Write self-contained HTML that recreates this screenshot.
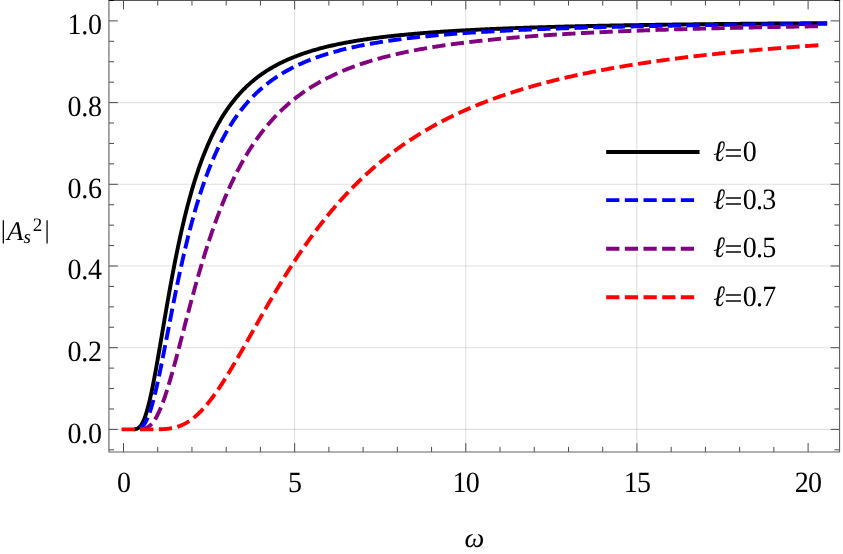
<!DOCTYPE html>
<html><head><meta charset="utf-8"><title>plot</title>
<style>html,body{margin:0;padding:0;background:#fff;overflow:hidden}body{width:843px;height:554px;position:relative;font-family:"Liberation Serif",serif}</style></head>
<body>
<svg width="843" height="554" viewBox="0 0 843 554" style="position:absolute;left:0;top:0">
<rect width="100%" height="100%" fill="#fff"/>
<path d="M108.94 429.40 H839.55 M108.94 347.70 H839.55 M108.94 266.00 H839.55 M108.94 184.30 H839.55 M108.94 102.60 H839.55" stroke="#000" stroke-opacity="0.12" stroke-width="1.1" fill="none"/>
<path d="M294.55 0.45 V452.00 M465.70 0.45 V452.00 M636.85 0.45 V452.00" stroke="#000" stroke-opacity="0.12" stroke-width="1.1" fill="none"/>
<clipPath id="cp"><rect x="134.4" y="0" width="720" height="460"/></clipPath>
<path d="M123.50 429.40 L123.52 429.40 L123.56 429.40 L123.61 429.40 L123.68 429.40 L123.76 429.40 L123.85 429.40 L123.94 429.40 L124.05 429.40 L124.16 429.40 L124.28 429.40 L124.41 429.40 L124.55 429.40 L124.69 429.40 L124.84 429.40 L125.00 429.40 L125.16 429.40 L125.33 429.40 L125.51 429.40 L125.69 429.40 L125.87 429.40 L126.07 429.40 L126.27 429.40 L126.47 429.40 L126.68 429.40 L126.89 429.40 L127.11 429.40 L127.34 429.40 L127.57 429.40 L127.80 429.40 L128.04 429.40 L128.29 429.40 L128.54 429.40 L128.79 429.40 L129.05 429.40 L129.31 429.40 L129.58 429.40 L129.86 429.40 L130.13 429.40 L130.41 429.40 L130.70 429.40 L130.99 429.40 L131.28 429.40 L131.58 429.40 L131.89 429.39 L132.19 429.39 L132.50 429.39 L132.82 429.38 L133.14 429.37 L133.46 429.35 L133.79 429.34 L134.12 429.31 L134.45 429.28 L134.79 429.24 L135.14 429.20 L135.48 429.13 L135.83 429.06 L136.19 428.97 L136.55 428.86 L136.91 428.73 L137.27 428.57 L137.64 428.39 L138.02 428.18 L138.39 427.94 L138.77 427.66 L139.16 427.35 L139.54 426.99 L139.93 426.59 L140.33 426.14 L140.73 425.64 L141.13 425.08 L141.53 424.47 L141.94 423.80 L142.35 423.07 L142.77 422.27 L143.18 421.41 L143.61 420.48 L144.03 419.48 L144.46 418.41 L144.89 417.26 L145.32 416.04 L145.76 414.74 L146.20 413.37 L146.65 411.92 L147.10 410.39 L147.55 408.79 L148.00 407.10 L148.46 405.35 L148.92 403.51 L149.38 401.60 L149.85 399.61 L150.32 397.55 L150.79 395.42 L151.27 393.22 L151.75 390.95 L152.23 388.61 L152.72 386.21 L153.21 383.74 L153.70 381.21 L154.19 378.62 L154.69 375.98 L155.19 373.28 L155.69 370.53 L156.20 367.74 L156.71 364.89 L157.22 362.00 L157.74 359.07 L158.26 356.11 L158.78 353.10 L159.30 350.06 L159.83 347.00 L160.36 343.90 L160.89 340.78 L161.43 337.64 L161.96 334.48 L162.51 331.29 L163.05 328.10 L163.60 324.89 L164.15 321.67 L164.70 318.44 L165.25 315.21 L165.81 311.97 L166.37 308.73 L166.94 305.49 L167.50 302.26 L168.07 299.03 L168.64 295.80 L169.22 292.58 L169.80 289.37 L170.38 286.17 L170.96 282.99 L171.54 279.82 L172.13 276.66 L172.72 273.52 L173.32 270.39 L173.91 267.29 L174.51 264.21 L175.11 261.14 L175.72 258.10 L176.32 255.08 L176.93 252.09 L177.54 249.12 L178.16 246.17 L178.78 243.26 L179.40 240.36 L180.02 237.50 L180.64 234.66 L181.27 231.85 L181.90 229.07 L182.53 226.31 L183.17 223.59 L183.81 220.90 L184.45 218.23 L185.09 215.60 L185.74 212.99 L186.38 210.42 L187.03 207.87 L187.69 205.36 L188.34 202.87 L189.00 200.42 L189.66 198.00 L190.32 195.61 L190.99 193.24 L191.66 190.91 L192.33 188.61 L193.00 186.34 L193.67 184.10 L194.35 181.89 L195.03 179.71 L195.71 177.55 L196.40 175.43 L197.09 173.34 L197.78 171.27 L198.47 169.24 L199.16 167.23 L199.86 165.25 L200.56 163.30 L201.26 161.37 L201.96 159.48 L202.67 157.61 L203.38 155.77 L204.09 153.95 L204.81 152.16 L205.52 150.40 L206.24 148.66 L206.96 146.95 L207.68 145.26 L208.41 143.60 L209.14 141.96 L209.87 140.35 L210.60 138.76 L211.33 137.19 L212.07 135.65 L212.81 134.13 L213.55 132.63 L214.29 131.16 L215.04 129.70 L215.79 128.27 L216.54 126.86 L217.29 125.47 L218.05 124.11 L218.81 122.76 L219.57 121.43 L220.33 120.13 L221.09 118.84 L221.86 117.57 L222.63 116.32 L223.40 115.09 L224.17 113.88 L224.95 112.69 L225.72 111.51 L226.50 110.35 L227.29 109.21 L228.07 108.09 L228.86 106.98 L229.65 105.89 L230.44 104.82 L231.23 103.76 L232.03 102.72 L232.82 101.70 L233.62 100.69 L234.43 99.69 L235.23 98.71 L236.04 97.74 L236.84 96.79 L237.66 95.85 L238.47 94.93 L239.28 94.02 L240.10 93.12 L240.92 92.24 L241.74 91.37 L242.56 90.51 L243.39 89.67 L244.22 88.84 L245.05 88.02 L245.88 87.21 L246.71 86.41 L247.55 85.63 L248.39 84.86 L249.23 84.10 L250.07 83.35 L250.92 82.61 L251.77 81.88 L252.61 81.16 L253.47 80.45 L254.32 79.75 L255.17 79.07 L256.03 78.39 L256.89 77.72 L257.75 77.06 L258.62 76.41 L259.48 75.77 L260.35 75.14 L261.22 74.52 L262.09 73.91 L262.97 73.30 L263.84 72.71 L264.72 72.12 L265.60 71.54 L266.48 70.97 L267.37 70.41 L268.25 69.85 L269.14 69.31 L270.03 68.77 L270.92 68.23 L271.82 67.71 L272.72 67.19 L273.61 66.68 L274.51 66.18 L275.42 65.68 L276.32 65.19 L277.23 64.71 L278.14 64.23 L279.05 63.76 L279.96 63.30 L280.88 62.84 L281.79 62.39 L282.71 61.95 L283.63 61.51 L284.55 61.08 L285.48 60.65 L286.40 60.23 L287.33 59.81 L288.26 59.40 L289.20 59.00 L290.13 58.60 L291.07 58.20 L292.01 57.82 L292.95 57.43 L293.89 57.05 L294.83 56.68 L295.78 56.31 L296.73 55.95 L297.68 55.59 L298.63 55.23 L299.58 54.88 L300.54 54.54 L301.50 54.20 L302.46 53.86 L303.42 53.53 L304.38 53.20 L305.35 52.87 L306.32 52.55 L307.29 52.24 L308.26 51.93 L309.23 51.62 L310.21 51.31 L311.18 51.01 L312.16 50.72 L313.14 50.43 L314.13 50.14 L315.11 49.85 L316.10 49.57 L317.09 49.29 L318.08 49.02 L319.07 48.74 L320.06 48.48 L321.06 48.21 L322.06 47.95 L323.06 47.69 L324.06 47.44 L325.06 47.18 L326.07 46.93 L327.08 46.69 L328.09 46.45 L329.10 46.21 L330.11 45.97 L331.13 45.73 L332.14 45.50 L333.16 45.27 L334.18 45.05 L335.20 44.82 L336.23 44.60 L337.25 44.38 L338.28 44.17 L339.31 43.96 L340.34 43.75 L341.38 43.54 L342.41 43.33 L343.45 43.13 L344.49 42.93 L345.53 42.73 L346.57 42.53 L347.62 42.34 L348.66 42.15 L349.71 41.96 L350.76 41.77 L351.81 41.58 L352.87 41.40 L353.92 41.22 L354.98 41.04 L356.04 40.86 L357.10 40.69 L358.16 40.52 L359.23 40.34 L360.29 40.18 L361.36 40.01 L362.43 39.84 L363.50 39.68 L364.58 39.52 L365.65 39.36 L366.73 39.20 L367.81 39.04 L368.89 38.89 L369.97 38.73 L371.06 38.58 L372.14 38.43 L373.23 38.29 L374.32 38.14 L375.41 37.99 L376.50 37.85 L377.60 37.71 L378.70 37.57 L379.79 37.43 L380.89 37.29 L382.00 37.16 L383.10 37.02 L384.21 36.89 L385.31 36.76 L386.42 36.63 L387.53 36.50 L388.65 36.37 L389.76 36.25 L390.88 36.12 L391.99 36.00 L393.11 35.88 L394.23 35.76 L395.36 35.64 L396.48 35.52 L397.61 35.40 L398.74 35.29 L399.87 35.17 L401.00 35.06 L402.13 34.94 L403.27 34.83 L404.40 34.72 L405.54 34.61 L406.68 34.51 L407.83 34.40 L408.97 34.29 L410.12 34.19 L411.26 34.09 L412.41 33.98 L413.56 33.88 L414.72 33.78 L415.87 33.68 L417.03 33.58 L418.18 33.49 L419.34 33.39 L420.50 33.30 L421.67 33.20 L422.83 33.11 L424.00 33.01 L425.16 32.92 L426.33 32.83 L427.51 32.74 L428.68 32.65 L429.85 32.56 L431.03 32.48 L432.21 32.39 L433.39 32.31 L434.57 32.22 L435.75 32.14 L436.94 32.05 L438.12 31.97 L439.31 31.89 L440.50 31.81 L441.69 31.73 L442.88 31.65 L444.08 31.57 L445.28 31.49 L446.47 31.42 L447.67 31.34 L448.88 31.26 L450.08 31.19 L451.28 31.11 L452.49 31.04 L453.70 30.97 L454.91 30.90 L456.12 30.82 L457.33 30.75 L458.55 30.68 L459.76 30.61 L460.98 30.54 L462.20 30.48 L463.42 30.41 L464.65 30.34 L465.87 30.28 L467.10 30.21 L468.32 30.14 L469.55 30.08 L470.79 30.02 L472.02 29.95 L473.25 29.89 L474.49 29.83 L475.73 29.77 L476.97 29.70 L478.21 29.64 L479.45 29.58 L480.69 29.52 L481.94 29.46 L483.19 29.41 L484.44 29.35 L485.69 29.29 L486.94 29.23 L488.19 29.18 L489.45 29.12 L490.71 29.07 L491.97 29.01 L493.23 28.96 L494.49 28.90 L495.75 28.85 L497.02 28.80 L498.28 28.74 L499.55 28.69 L500.82 28.64 L502.10 28.59 L503.37 28.54 L504.64 28.49 L505.92 28.44 L507.20 28.39 L508.48 28.34 L509.76 28.29 L511.04 28.24 L512.33 28.19 L513.61 28.15 L514.90 28.10 L516.19 28.05 L517.48 28.01 L518.77 27.96 L520.07 27.92 L521.36 27.87 L522.66 27.83 L523.96 27.78 L525.26 27.74 L526.56 27.69 L527.87 27.65 L529.17 27.61 L530.48 27.56 L531.79 27.52 L533.10 27.48 L534.41 27.44 L535.72 27.40 L537.04 27.36 L538.35 27.32 L539.67 27.28 L540.99 27.24 L542.31 27.20 L543.63 27.16 L544.96 27.12 L546.28 27.08 L547.61 27.04 L548.94 27.00 L550.27 26.97 L551.60 26.93 L552.93 26.89 L554.27 26.86 L555.60 26.82 L556.94 26.78 L558.28 26.75 L559.62 26.71 L560.97 26.68 L562.31 26.64 L563.66 26.61 L565.00 26.57 L566.35 26.54 L567.70 26.50 L569.05 26.47 L570.41 26.44 L571.76 26.40 L573.12 26.37 L574.48 26.34 L575.84 26.31 L577.20 26.27 L578.56 26.24 L579.93 26.21 L581.29 26.18 L582.66 26.15 L584.03 26.12 L585.40 26.09 L586.77 26.06 L588.14 26.03 L589.52 26.00 L590.89 25.97 L592.27 25.94 L593.65 25.91 L595.03 25.88 L596.42 25.85 L597.80 25.82 L599.19 25.79 L600.57 25.76 L601.96 25.74 L603.35 25.71 L604.74 25.68 L606.14 25.65 L607.53 25.63 L608.93 25.60 L610.32 25.57 L611.72 25.55 L613.12 25.52 L614.53 25.49 L615.93 25.47 L617.34 25.44 L618.74 25.42 L620.15 25.39 L621.56 25.37 L622.97 25.34 L624.38 25.32 L625.80 25.29 L627.21 25.27 L628.63 25.24 L630.05 25.22 L631.47 25.19 L632.89 25.17 L634.31 25.15 L635.74 25.12 L637.16 25.10 L638.59 25.08 L640.02 25.05 L641.45 25.03 L642.88 25.01 L644.32 24.99 L645.75 24.96 L647.19 24.94 L648.63 24.92 L650.07 24.90 L651.51 24.88 L652.95 24.86 L654.39 24.83 L655.84 24.81 L657.29 24.79 L658.73 24.77 L660.18 24.75 L661.64 24.73 L663.09 24.71 L664.54 24.69 L666.00 24.67 L667.45 24.65 L668.91 24.63 L670.37 24.61 L671.83 24.59 L673.30 24.57 L674.76 24.55 L676.23 24.53 L677.70 24.51 L679.16 24.49 L680.63 24.47 L682.11 24.46 L683.58 24.44 L685.05 24.42 L686.53 24.40 L688.01 24.38 L689.49 24.36 L690.97 24.35 L692.45 24.33 L693.93 24.31 L695.42 24.29 L696.90 24.28 L698.39 24.26 L699.88 24.24 L701.37 24.22 L702.86 24.21 L704.36 24.19 L705.85 24.17 L707.35 24.16 L708.85 24.14 L710.34 24.12 L711.84 24.11 L713.35 24.09 L714.85 24.07 L716.36 24.06 L717.86 24.04 L719.37 24.03 L720.88 24.01 L722.39 24.00 L723.90 23.98 L725.42 23.97 L726.93 23.95 L728.45 23.93 L729.96 23.92 L731.48 23.90 L733.00 23.89 L734.53 23.87 L736.05 23.86 L737.57 23.85 L739.10 23.83 L740.63 23.82 L742.16 23.80 L743.69 23.79 L745.22 23.77 L746.75 23.76 L748.29 23.75 L749.83 23.73 L751.36 23.72 L752.90 23.70 L754.44 23.69 L755.98 23.68 L757.53 23.66 L759.07 23.65 L760.62 23.64 L762.17 23.62 L763.72 23.61 L765.27 23.60 L766.82 23.58 L768.37 23.57 L769.93 23.56 L771.48 23.55 L773.04 23.53 L774.60 23.52 L776.16 23.51 L777.72 23.50 L779.28 23.48 L780.85 23.47 L782.41 23.46 L783.98 23.45 L785.55 23.44 L787.12 23.42 L788.69 23.41 L790.26 23.40 L791.84 23.39 L793.41 23.38 L794.99 23.37 L796.57 23.35 L798.15 23.34 L799.73 23.33 L801.31 23.32 L802.90 23.31 L804.48 23.30 L806.07 23.29 L807.66 23.28 L809.24 23.26 L810.84 23.25 L812.43 23.24 L814.02 23.23 L815.62 23.22 L817.21 23.21 L818.81 23.20 L820.41 23.19 L822.01 23.18 L823.61 23.17 L825.21 23.16" stroke="#000000" stroke-width="3.9" fill="none" stroke-linejoin="round" stroke-linecap="square" clip-path="url(#cp)"/>
<path d="M123.50 429.40 L123.52 429.40 L123.56 429.40 L123.61 429.40 L123.68 429.40 L123.76 429.40 L123.85 429.40 L123.94 429.40 L124.05 429.40 L124.16 429.40 L124.28 429.40 L124.41 429.40 L124.55 429.40 L124.69 429.40 L124.84 429.40 L125.00 429.40 L125.16 429.40 L125.33 429.40 L125.51 429.40 L125.69 429.40 L125.87 429.40 L126.07 429.40 L126.27 429.40 L126.47 429.40 L126.68 429.40 L126.89 429.40 L127.11 429.40 L127.34 429.40 L127.57 429.40 L127.80 429.40 L128.04 429.40 L128.29 429.40 L128.54 429.40 L128.79 429.40 L129.05 429.40 L129.31 429.40 L129.58 429.40 L129.86 429.40 L130.13 429.40 L130.41 429.40 L130.70 429.40 L130.99 429.40 L131.28 429.40 L131.58 429.40 L131.89 429.40 L132.19 429.40 L132.50 429.40 L132.82 429.40 L133.14 429.39 L133.46 429.39 L133.79 429.38 L134.12 429.38 L134.45 429.37 L134.79 429.36 L135.14 429.34 L135.48 429.32 L135.83 429.30 L136.19 429.26 L136.55 429.22 L136.91 429.17 L137.27 429.11 L137.64 429.04 L138.02 428.95 L138.39 428.85 L138.77 428.73 L139.16 428.59 L139.54 428.43 L139.93 428.24 L140.33 428.03 L140.73 427.78 L141.13 427.51 L141.53 427.20 L141.94 426.85 L142.35 426.47 L142.77 426.04 L143.18 425.57 L143.61 425.06 L144.03 424.49 L144.46 423.88 L144.89 423.21 L145.32 422.50 L145.76 421.72 L146.20 420.89 L146.65 419.99 L147.10 419.04 L147.55 418.03 L148.00 416.95 L148.46 415.81 L148.92 414.60 L149.38 413.33 L149.85 412.00 L150.32 410.60 L150.79 409.13 L151.27 407.60 L151.75 406.00 L152.23 404.34 L152.72 402.61 L153.21 400.82 L153.70 398.96 L154.19 397.05 L154.69 395.07 L155.19 393.03 L155.69 390.93 L156.20 388.78 L156.71 386.57 L157.22 384.31 L157.74 381.99 L158.26 379.63 L158.78 377.21 L159.30 374.75 L159.83 372.25 L160.36 369.70 L160.89 367.11 L161.43 364.48 L161.96 361.81 L162.51 359.11 L163.05 356.38 L163.60 353.61 L164.15 350.82 L164.70 348.00 L165.25 345.16 L165.81 342.29 L166.37 339.41 L166.94 336.50 L167.50 333.58 L168.07 330.64 L168.64 327.70 L169.22 324.74 L169.80 321.77 L170.38 318.80 L170.96 315.82 L171.54 312.84 L172.13 309.85 L172.72 306.87 L173.32 303.88 L173.91 300.90 L174.51 297.92 L175.11 294.95 L175.72 291.99 L176.32 289.03 L176.93 286.08 L177.54 283.15 L178.16 280.22 L178.78 277.31 L179.40 274.41 L180.02 271.53 L180.64 268.66 L181.27 265.81 L181.90 262.98 L182.53 260.16 L183.17 257.36 L183.81 254.59 L184.45 251.83 L185.09 249.09 L185.74 246.38 L186.38 243.68 L187.03 241.01 L187.69 238.37 L188.34 235.74 L189.00 233.14 L189.66 230.56 L190.32 228.01 L190.99 225.48 L191.66 222.98 L192.33 220.50 L193.00 218.05 L193.67 215.62 L194.35 213.22 L195.03 210.84 L195.71 208.49 L196.40 206.17 L197.09 203.87 L197.78 201.59 L198.47 199.35 L199.16 197.13 L199.86 194.93 L200.56 192.76 L201.26 190.62 L201.96 188.50 L202.67 186.40 L203.38 184.34 L204.09 182.30 L204.81 180.28 L205.52 178.29 L206.24 176.32 L206.96 174.38 L207.68 172.46 L208.41 170.57 L209.14 168.70 L209.87 166.85 L210.60 165.03 L211.33 163.24 L212.07 161.46 L212.81 159.71 L213.55 157.99 L214.29 156.28 L215.04 154.60 L215.79 152.94 L216.54 151.31 L217.29 149.69 L218.05 148.10 L218.81 146.53 L219.57 144.98 L220.33 143.45 L221.09 141.94 L221.86 140.45 L222.63 138.99 L223.40 137.54 L224.17 136.11 L224.95 134.70 L225.72 133.31 L226.50 131.94 L227.29 130.59 L228.07 129.26 L228.86 127.95 L229.65 126.65 L230.44 125.38 L231.23 124.12 L232.03 122.87 L232.82 121.65 L233.62 120.44 L234.43 119.25 L235.23 118.07 L236.04 116.91 L236.84 115.77 L237.66 114.65 L238.47 113.53 L239.28 112.44 L240.10 111.36 L240.92 110.29 L241.74 109.24 L242.56 108.21 L243.39 107.18 L244.22 106.18 L245.05 105.18 L245.88 104.20 L246.71 103.24 L247.55 102.28 L248.39 101.34 L249.23 100.42 L250.07 99.50 L250.92 98.60 L251.77 97.71 L252.61 96.83 L253.47 95.97 L254.32 95.12 L255.17 94.27 L256.03 93.44 L256.89 92.63 L257.75 91.82 L258.62 91.02 L259.48 90.24 L260.35 89.46 L261.22 88.70 L262.09 87.94 L262.97 87.20 L263.84 86.46 L264.72 85.74 L265.60 85.03 L266.48 84.32 L267.37 83.63 L268.25 82.94 L269.14 82.26 L270.03 81.60 L270.92 80.94 L271.82 80.29 L272.72 79.65 L273.61 79.01 L274.51 78.39 L275.42 77.77 L276.32 77.17 L277.23 76.57 L278.14 75.97 L279.05 75.39 L279.96 74.81 L280.88 74.25 L281.79 73.68 L282.71 73.13 L283.63 72.58 L284.55 72.04 L285.48 71.51 L286.40 70.98 L287.33 70.46 L288.26 69.95 L289.20 69.45 L290.13 68.95 L291.07 68.45 L292.01 67.97 L292.95 67.49 L293.89 67.01 L294.83 66.54 L295.78 66.08 L296.73 65.63 L297.68 65.18 L298.63 64.73 L299.58 64.29 L300.54 63.86 L301.50 63.43 L302.46 63.01 L303.42 62.59 L304.38 62.18 L305.35 61.77 L306.32 61.37 L307.29 60.97 L308.26 60.58 L309.23 60.19 L310.21 59.80 L311.18 59.43 L312.16 59.05 L313.14 58.68 L314.13 58.32 L315.11 57.96 L316.10 57.60 L317.09 57.25 L318.08 56.91 L319.07 56.56 L320.06 56.22 L321.06 55.89 L322.06 55.56 L323.06 55.23 L324.06 54.91 L325.06 54.59 L326.07 54.27 L327.08 53.96 L328.09 53.66 L329.10 53.35 L330.11 53.05 L331.13 52.75 L332.14 52.46 L333.16 52.17 L334.18 51.88 L335.20 51.60 L336.23 51.32 L337.25 51.04 L338.28 50.77 L339.31 50.50 L340.34 50.23 L341.38 49.97 L342.41 49.71 L343.45 49.45 L344.49 49.19 L345.53 48.94 L346.57 48.69 L347.62 48.44 L348.66 48.20 L349.71 47.96 L350.76 47.72 L351.81 47.49 L352.87 47.25 L353.92 47.02 L354.98 46.79 L356.04 46.57 L357.10 46.35 L358.16 46.13 L359.23 45.91 L360.29 45.69 L361.36 45.48 L362.43 45.27 L363.50 45.06 L364.58 44.85 L365.65 44.65 L366.73 44.45 L367.81 44.25 L368.89 44.05 L369.97 43.86 L371.06 43.66 L372.14 43.47 L373.23 43.28 L374.32 43.10 L375.41 42.91 L376.50 42.73 L377.60 42.55 L378.70 42.37 L379.79 42.19 L380.89 42.02 L382.00 41.84 L383.10 41.67 L384.21 41.50 L385.31 41.33 L386.42 41.17 L387.53 41.00 L388.65 40.84 L389.76 40.68 L390.88 40.52 L391.99 40.36 L393.11 40.20 L394.23 40.05 L395.36 39.90 L396.48 39.75 L397.61 39.60 L398.74 39.45 L399.87 39.30 L401.00 39.16 L402.13 39.01 L403.27 38.87 L404.40 38.73 L405.54 38.59 L406.68 38.45 L407.83 38.31 L408.97 38.18 L410.12 38.04 L411.26 37.91 L412.41 37.78 L413.56 37.65 L414.72 37.52 L415.87 37.39 L417.03 37.27 L418.18 37.14 L419.34 37.02 L420.50 36.90 L421.67 36.78 L422.83 36.66 L424.00 36.54 L425.16 36.42 L426.33 36.30 L427.51 36.19 L428.68 36.07 L429.85 35.96 L431.03 35.85 L432.21 35.74 L433.39 35.63 L434.57 35.52 L435.75 35.41 L436.94 35.30 L438.12 35.20 L439.31 35.09 L440.50 34.99 L441.69 34.89 L442.88 34.78 L444.08 34.68 L445.28 34.58 L446.47 34.48 L447.67 34.39 L448.88 34.29 L450.08 34.19 L451.28 34.10 L452.49 34.00 L453.70 33.91 L454.91 33.82 L456.12 33.72 L457.33 33.63 L458.55 33.54 L459.76 33.45 L460.98 33.36 L462.20 33.28 L463.42 33.19 L464.65 33.10 L465.87 33.02 L467.10 32.93 L468.32 32.85 L469.55 32.77 L470.79 32.68 L472.02 32.60 L473.25 32.52 L474.49 32.44 L475.73 32.36 L476.97 32.28 L478.21 32.20 L479.45 32.13 L480.69 32.05 L481.94 31.97 L483.19 31.90 L484.44 31.82 L485.69 31.75 L486.94 31.68 L488.19 31.60 L489.45 31.53 L490.71 31.46 L491.97 31.39 L493.23 31.32 L494.49 31.25 L495.75 31.18 L497.02 31.11 L498.28 31.05 L499.55 30.98 L500.82 30.91 L502.10 30.85 L503.37 30.78 L504.64 30.72 L505.92 30.65 L507.20 30.59 L508.48 30.52 L509.76 30.46 L511.04 30.40 L512.33 30.34 L513.61 30.28 L514.90 30.22 L516.19 30.16 L517.48 30.10 L518.77 30.04 L520.07 29.98 L521.36 29.92 L522.66 29.86 L523.96 29.80 L525.26 29.75 L526.56 29.69 L527.87 29.64 L529.17 29.58 L530.48 29.53 L531.79 29.47 L533.10 29.42 L534.41 29.36 L535.72 29.31 L537.04 29.26 L538.35 29.21 L539.67 29.15 L540.99 29.10 L542.31 29.05 L543.63 29.00 L544.96 28.95 L546.28 28.90 L547.61 28.85 L548.94 28.80 L550.27 28.75 L551.60 28.71 L552.93 28.66 L554.27 28.61 L555.60 28.56 L556.94 28.52 L558.28 28.47 L559.62 28.43 L560.97 28.38 L562.31 28.33 L563.66 28.29 L565.00 28.24 L566.35 28.20 L567.70 28.16 L569.05 28.11 L570.41 28.07 L571.76 28.03 L573.12 27.99 L574.48 27.94 L575.84 27.90 L577.20 27.86 L578.56 27.82 L579.93 27.78 L581.29 27.74 L582.66 27.70 L584.03 27.66 L585.40 27.62 L586.77 27.58 L588.14 27.54 L589.52 27.50 L590.89 27.46 L592.27 27.42 L593.65 27.39 L595.03 27.35 L596.42 27.31 L597.80 27.27 L599.19 27.24 L600.57 27.20 L601.96 27.17 L603.35 27.13 L604.74 27.09 L606.14 27.06 L607.53 27.02 L608.93 26.99 L610.32 26.95 L611.72 26.92 L613.12 26.89 L614.53 26.85 L615.93 26.82 L617.34 26.78 L618.74 26.75 L620.15 26.72 L621.56 26.69 L622.97 26.65 L624.38 26.62 L625.80 26.59 L627.21 26.56 L628.63 26.53 L630.05 26.50 L631.47 26.46 L632.89 26.43 L634.31 26.40 L635.74 26.37 L637.16 26.34 L638.59 26.31 L640.02 26.28 L641.45 26.25 L642.88 26.23 L644.32 26.20 L645.75 26.17 L647.19 26.14 L648.63 26.11 L650.07 26.08 L651.51 26.05 L652.95 26.03 L654.39 26.00 L655.84 25.97 L657.29 25.94 L658.73 25.92 L660.18 25.89 L661.64 25.86 L663.09 25.84 L664.54 25.81 L666.00 25.78 L667.45 25.76 L668.91 25.73 L670.37 25.71 L671.83 25.68 L673.30 25.66 L674.76 25.63 L676.23 25.61 L677.70 25.58 L679.16 25.56 L680.63 25.53 L682.11 25.51 L683.58 25.49 L685.05 25.46 L686.53 25.44 L688.01 25.41 L689.49 25.39 L690.97 25.37 L692.45 25.34 L693.93 25.32 L695.42 25.30 L696.90 25.28 L698.39 25.25 L699.88 25.23 L701.37 25.21 L702.86 25.19 L704.36 25.17 L705.85 25.14 L707.35 25.12 L708.85 25.10 L710.34 25.08 L711.84 25.06 L713.35 25.04 L714.85 25.02 L716.36 25.00 L717.86 24.97 L719.37 24.95 L720.88 24.93 L722.39 24.91 L723.90 24.89 L725.42 24.87 L726.93 24.85 L728.45 24.83 L729.96 24.81 L731.48 24.80 L733.00 24.78 L734.53 24.76 L736.05 24.74 L737.57 24.72 L739.10 24.70 L740.63 24.68 L742.16 24.66 L743.69 24.64 L745.22 24.63 L746.75 24.61 L748.29 24.59 L749.83 24.57 L751.36 24.55 L752.90 24.54 L754.44 24.52 L755.98 24.50 L757.53 24.48 L759.07 24.47 L760.62 24.45 L762.17 24.43 L763.72 24.42 L765.27 24.40 L766.82 24.38 L768.37 24.36 L769.93 24.35 L771.48 24.33 L773.04 24.32 L774.60 24.30 L776.16 24.28 L777.72 24.27 L779.28 24.25 L780.85 24.24 L782.41 24.22 L783.98 24.20 L785.55 24.19 L787.12 24.17 L788.69 24.16 L790.26 24.14 L791.84 24.13 L793.41 24.11 L794.99 24.10 L796.57 24.08 L798.15 24.07 L799.73 24.05 L801.31 24.04 L802.90 24.02 L804.48 24.01 L806.07 23.99 L807.66 23.98 L809.24 23.97 L810.84 23.95 L812.43 23.94 L814.02 23.92 L815.62 23.91 L817.21 23.90 L818.81 23.88 L820.41 23.87 L822.01 23.86 L823.61 23.84 L825.21 23.83" stroke="#0000ff" stroke-width="3.9" fill="none" stroke-linejoin="round" stroke-linecap="square" stroke-dasharray="9.336 9.336" clip-path="url(#cp)"/>
<path d="M123.50 429.40 L123.52 429.40 L123.56 429.40 L123.61 429.40 L123.68 429.40 L123.76 429.40 L123.85 429.40 L123.94 429.40 L124.05 429.40 L124.16 429.40 L124.28 429.40 L124.41 429.40 L124.55 429.40 L124.69 429.40 L124.84 429.40 L125.00 429.40 L125.16 429.40 L125.33 429.40 L125.51 429.40 L125.69 429.40 L125.87 429.40 L126.07 429.40 L126.27 429.40 L126.47 429.40 L126.68 429.40 L126.89 429.40 L127.11 429.40 L127.34 429.40 L127.57 429.40 L127.80 429.40 L128.04 429.40 L128.29 429.40 L128.54 429.40 L128.79 429.40 L129.05 429.40 L129.31 429.40 L129.58 429.40 L129.86 429.40 L130.13 429.40 L130.41 429.40 L130.70 429.40 L130.99 429.40 L131.28 429.40 L131.58 429.40 L131.89 429.40 L132.19 429.40 L132.50 429.40 L132.82 429.40 L133.14 429.40 L133.46 429.40 L133.79 429.40 L134.12 429.40 L134.45 429.40 L134.79 429.40 L135.14 429.40 L135.48 429.40 L135.83 429.40 L136.19 429.39 L136.55 429.39 L136.91 429.39 L137.27 429.39 L137.64 429.38 L138.02 429.37 L138.39 429.37 L138.77 429.35 L139.16 429.34 L139.54 429.32 L139.93 429.30 L140.33 429.28 L140.73 429.25 L141.13 429.22 L141.53 429.17 L141.94 429.12 L142.35 429.07 L142.77 429.00 L143.18 428.92 L143.61 428.83 L144.03 428.73 L144.46 428.62 L144.89 428.49 L145.32 428.34 L145.76 428.18 L146.20 427.99 L146.65 427.79 L147.10 427.56 L147.55 427.32 L148.00 427.04 L148.46 426.74 L148.92 426.42 L149.38 426.06 L149.85 425.68 L150.32 425.26 L150.79 424.81 L151.27 424.33 L151.75 423.81 L152.23 423.26 L152.72 422.66 L153.21 422.03 L153.70 421.36 L154.19 420.66 L154.69 419.90 L155.19 419.11 L155.69 418.28 L156.20 417.40 L156.71 416.48 L157.22 415.51 L157.74 414.50 L158.26 413.45 L158.78 412.35 L159.30 411.20 L159.83 410.01 L160.36 408.77 L160.89 407.49 L161.43 406.16 L161.96 404.79 L162.51 403.37 L163.05 401.91 L163.60 400.41 L164.15 398.86 L164.70 397.27 L165.25 395.64 L165.81 393.96 L166.37 392.24 L166.94 390.49 L167.50 388.69 L168.07 386.86 L168.64 384.99 L169.22 383.08 L169.80 381.14 L170.38 379.16 L170.96 377.15 L171.54 375.11 L172.13 373.03 L172.72 370.93 L173.32 368.80 L173.91 366.63 L174.51 364.45 L175.11 362.23 L175.72 360.00 L176.32 357.74 L176.93 355.45 L177.54 353.15 L178.16 350.83 L178.78 348.49 L179.40 346.13 L180.02 343.76 L180.64 341.37 L181.27 338.96 L181.90 336.55 L182.53 334.12 L183.17 331.69 L183.81 329.24 L184.45 326.79 L185.09 324.33 L185.74 321.86 L186.38 319.39 L187.03 316.92 L187.69 314.44 L188.34 311.96 L189.00 309.48 L189.66 307.00 L190.32 304.52 L190.99 302.04 L191.66 299.57 L192.33 297.10 L193.00 294.63 L193.67 292.16 L194.35 289.71 L195.03 287.25 L195.71 284.81 L196.40 282.37 L197.09 279.94 L197.78 277.53 L198.47 275.11 L199.16 272.71 L199.86 270.32 L200.56 267.95 L201.26 265.58 L201.96 263.22 L202.67 260.88 L203.38 258.55 L204.09 256.24 L204.81 253.93 L205.52 251.64 L206.24 249.37 L206.96 247.11 L207.68 244.87 L208.41 242.64 L209.14 240.42 L209.87 238.23 L210.60 236.05 L211.33 233.88 L212.07 231.73 L212.81 229.60 L213.55 227.48 L214.29 225.39 L215.04 223.31 L215.79 221.24 L216.54 219.20 L217.29 217.17 L218.05 215.15 L218.81 213.16 L219.57 211.19 L220.33 209.23 L221.09 207.29 L221.86 205.36 L222.63 203.46 L223.40 201.57 L224.17 199.70 L224.95 197.85 L225.72 196.02 L226.50 194.20 L227.29 192.40 L228.07 190.62 L228.86 188.86 L229.65 187.12 L230.44 185.39 L231.23 183.68 L232.03 181.99 L232.82 180.32 L233.62 178.66 L234.43 177.02 L235.23 175.40 L236.04 173.79 L236.84 172.20 L237.66 170.63 L238.47 169.07 L239.28 167.54 L240.10 166.01 L240.92 164.51 L241.74 163.02 L242.56 161.55 L243.39 160.09 L244.22 158.65 L245.05 157.22 L245.88 155.82 L246.71 154.42 L247.55 153.04 L248.39 151.68 L249.23 150.33 L250.07 149.00 L250.92 147.68 L251.77 146.38 L252.61 145.09 L253.47 143.82 L254.32 142.56 L255.17 141.32 L256.03 140.09 L256.89 138.87 L257.75 137.67 L258.62 136.48 L259.48 135.30 L260.35 134.14 L261.22 132.99 L262.09 131.86 L262.97 130.73 L263.84 129.62 L264.72 128.53 L265.60 127.44 L266.48 126.37 L267.37 125.31 L268.25 124.26 L269.14 123.23 L270.03 122.20 L270.92 121.19 L271.82 120.19 L272.72 119.20 L273.61 118.23 L274.51 117.26 L275.42 116.31 L276.32 115.36 L277.23 114.43 L278.14 113.51 L279.05 112.60 L279.96 111.70 L280.88 110.81 L281.79 109.93 L282.71 109.06 L283.63 108.20 L284.55 107.35 L285.48 106.51 L286.40 105.68 L287.33 104.85 L288.26 104.04 L289.20 103.24 L290.13 102.45 L291.07 101.66 L292.01 100.89 L292.95 100.12 L293.89 99.37 L294.83 98.62 L295.78 97.88 L296.73 97.15 L297.68 96.42 L298.63 95.71 L299.58 95.00 L300.54 94.30 L301.50 93.61 L302.46 92.93 L303.42 92.25 L304.38 91.59 L305.35 90.93 L306.32 90.27 L307.29 89.63 L308.26 88.99 L309.23 88.36 L310.21 87.74 L311.18 87.12 L312.16 86.51 L313.14 85.91 L314.13 85.31 L315.11 84.72 L316.10 84.14 L317.09 83.56 L318.08 82.99 L319.07 82.43 L320.06 81.87 L321.06 81.32 L322.06 80.78 L323.06 80.24 L324.06 79.71 L325.06 79.18 L326.07 78.66 L327.08 78.14 L328.09 77.63 L329.10 77.13 L330.11 76.63 L331.13 76.14 L332.14 75.65 L333.16 75.17 L334.18 74.69 L335.20 74.22 L336.23 73.75 L337.25 73.29 L338.28 72.83 L339.31 72.38 L340.34 71.93 L341.38 71.49 L342.41 71.05 L343.45 70.62 L344.49 70.19 L345.53 69.77 L346.57 69.35 L347.62 68.94 L348.66 68.53 L349.71 68.12 L350.76 67.72 L351.81 67.32 L352.87 66.93 L353.92 66.54 L354.98 66.16 L356.04 65.78 L357.10 65.40 L358.16 65.03 L359.23 64.66 L360.29 64.29 L361.36 63.93 L362.43 63.58 L363.50 63.22 L364.58 62.87 L365.65 62.53 L366.73 62.18 L367.81 61.84 L368.89 61.51 L369.97 61.18 L371.06 60.85 L372.14 60.52 L373.23 60.20 L374.32 59.88 L375.41 59.57 L376.50 59.26 L377.60 58.95 L378.70 58.64 L379.79 58.34 L380.89 58.04 L382.00 57.74 L383.10 57.45 L384.21 57.16 L385.31 56.87 L386.42 56.58 L387.53 56.30 L388.65 56.02 L389.76 55.75 L390.88 55.47 L391.99 55.20 L393.11 54.93 L394.23 54.67 L395.36 54.41 L396.48 54.15 L397.61 53.89 L398.74 53.63 L399.87 53.38 L401.00 53.13 L402.13 52.88 L403.27 52.64 L404.40 52.39 L405.54 52.15 L406.68 51.91 L407.83 51.68 L408.97 51.44 L410.12 51.21 L411.26 50.98 L412.41 50.76 L413.56 50.53 L414.72 50.31 L415.87 50.09 L417.03 49.87 L418.18 49.65 L419.34 49.44 L420.50 49.23 L421.67 49.02 L422.83 48.81 L424.00 48.60 L425.16 48.40 L426.33 48.20 L427.51 48.00 L428.68 47.80 L429.85 47.60 L431.03 47.41 L432.21 47.21 L433.39 47.02 L434.57 46.83 L435.75 46.64 L436.94 46.46 L438.12 46.27 L439.31 46.09 L440.50 45.91 L441.69 45.73 L442.88 45.55 L444.08 45.38 L445.28 45.20 L446.47 45.03 L447.67 44.86 L448.88 44.69 L450.08 44.52 L451.28 44.35 L452.49 44.19 L453.70 44.03 L454.91 43.86 L456.12 43.70 L457.33 43.54 L458.55 43.39 L459.76 43.23 L460.98 43.07 L462.20 42.92 L463.42 42.77 L464.65 42.62 L465.87 42.47 L467.10 42.32 L468.32 42.17 L469.55 42.03 L470.79 41.88 L472.02 41.74 L473.25 41.60 L474.49 41.46 L475.73 41.32 L476.97 41.18 L478.21 41.04 L479.45 40.91 L480.69 40.77 L481.94 40.64 L483.19 40.51 L484.44 40.38 L485.69 40.25 L486.94 40.12 L488.19 39.99 L489.45 39.86 L490.71 39.74 L491.97 39.61 L493.23 39.49 L494.49 39.37 L495.75 39.24 L497.02 39.12 L498.28 39.00 L499.55 38.89 L500.82 38.77 L502.10 38.65 L503.37 38.54 L504.64 38.42 L505.92 38.31 L507.20 38.20 L508.48 38.09 L509.76 37.97 L511.04 37.86 L512.33 37.76 L513.61 37.65 L514.90 37.54 L516.19 37.44 L517.48 37.33 L518.77 37.23 L520.07 37.12 L521.36 37.02 L522.66 36.92 L523.96 36.82 L525.26 36.72 L526.56 36.62 L527.87 36.52 L529.17 36.42 L530.48 36.32 L531.79 36.23 L533.10 36.13 L534.41 36.04 L535.72 35.94 L537.04 35.85 L538.35 35.76 L539.67 35.67 L540.99 35.58 L542.31 35.48 L543.63 35.40 L544.96 35.31 L546.28 35.22 L547.61 35.13 L548.94 35.04 L550.27 34.96 L551.60 34.87 L552.93 34.79 L554.27 34.70 L555.60 34.62 L556.94 34.54 L558.28 34.46 L559.62 34.38 L560.97 34.29 L562.31 34.21 L563.66 34.13 L565.00 34.06 L566.35 33.98 L567.70 33.90 L569.05 33.82 L570.41 33.75 L571.76 33.67 L573.12 33.59 L574.48 33.52 L575.84 33.45 L577.20 33.37 L578.56 33.30 L579.93 33.23 L581.29 33.15 L582.66 33.08 L584.03 33.01 L585.40 32.94 L586.77 32.87 L588.14 32.80 L589.52 32.73 L590.89 32.67 L592.27 32.60 L593.65 32.53 L595.03 32.46 L596.42 32.40 L597.80 32.33 L599.19 32.27 L600.57 32.20 L601.96 32.14 L603.35 32.07 L604.74 32.01 L606.14 31.95 L607.53 31.89 L608.93 31.82 L610.32 31.76 L611.72 31.70 L613.12 31.64 L614.53 31.58 L615.93 31.52 L617.34 31.46 L618.74 31.40 L620.15 31.34 L621.56 31.29 L622.97 31.23 L624.38 31.17 L625.80 31.11 L627.21 31.06 L628.63 31.00 L630.05 30.95 L631.47 30.89 L632.89 30.84 L634.31 30.78 L635.74 30.73 L637.16 30.67 L638.59 30.62 L640.02 30.57 L641.45 30.52 L642.88 30.46 L644.32 30.41 L645.75 30.36 L647.19 30.31 L648.63 30.26 L650.07 30.21 L651.51 30.16 L652.95 30.11 L654.39 30.06 L655.84 30.01 L657.29 29.96 L658.73 29.91 L660.18 29.87 L661.64 29.82 L663.09 29.77 L664.54 29.72 L666.00 29.68 L667.45 29.63 L668.91 29.59 L670.37 29.54 L671.83 29.49 L673.30 29.45 L674.76 29.40 L676.23 29.36 L677.70 29.32 L679.16 29.27 L680.63 29.23 L682.11 29.19 L683.58 29.14 L685.05 29.10 L686.53 29.06 L688.01 29.02 L689.49 28.97 L690.97 28.93 L692.45 28.89 L693.93 28.85 L695.42 28.81 L696.90 28.77 L698.39 28.73 L699.88 28.69 L701.37 28.65 L702.86 28.61 L704.36 28.57 L705.85 28.53 L707.35 28.49 L708.85 28.45 L710.34 28.42 L711.84 28.38 L713.35 28.34 L714.85 28.30 L716.36 28.27 L717.86 28.23 L719.37 28.19 L720.88 28.16 L722.39 28.12 L723.90 28.08 L725.42 28.05 L726.93 28.01 L728.45 27.98 L729.96 27.94 L731.48 27.91 L733.00 27.87 L734.53 27.84 L736.05 27.81 L737.57 27.77 L739.10 27.74 L740.63 27.70 L742.16 27.67 L743.69 27.64 L745.22 27.61 L746.75 27.57 L748.29 27.54 L749.83 27.51 L751.36 27.48 L752.90 27.44 L754.44 27.41 L755.98 27.38 L757.53 27.35 L759.07 27.32 L760.62 27.29 L762.17 27.26 L763.72 27.23 L765.27 27.20 L766.82 27.17 L768.37 27.14 L769.93 27.11 L771.48 27.08 L773.04 27.05 L774.60 27.02 L776.16 26.99 L777.72 26.96 L779.28 26.93 L780.85 26.91 L782.41 26.88 L783.98 26.85 L785.55 26.82 L787.12 26.79 L788.69 26.77 L790.26 26.74 L791.84 26.71 L793.41 26.68 L794.99 26.66 L796.57 26.63 L798.15 26.60 L799.73 26.58 L801.31 26.55 L802.90 26.53 L804.48 26.50 L806.07 26.47 L807.66 26.45 L809.24 26.42 L810.84 26.40 L812.43 26.37 L814.02 26.35 L815.62 26.32 L817.21 26.30 L818.81 26.27 L820.41 26.25 L822.01 26.22 L823.61 26.20 L825.21 26.18" stroke="#800080" stroke-width="3.9" fill="none" stroke-linejoin="round" stroke-linecap="square" stroke-dasharray="9.33 9.33" clip-path="url(#cp)"/>
<path d="M123.50 429.40 L123.52 429.40 L123.56 429.40 L123.61 429.40 L123.68 429.40 L123.76 429.40 L123.85 429.40 L123.94 429.40 L124.05 429.40 L124.16 429.40 L124.28 429.40 L124.41 429.40 L124.55 429.40 L124.69 429.40 L124.84 429.40 L125.00 429.40 L125.16 429.40 L125.33 429.40 L125.51 429.40 L125.69 429.40 L125.87 429.40 L126.07 429.40 L126.27 429.40 L126.47 429.40 L126.68 429.40 L126.89 429.40 L127.11 429.40 L127.34 429.40 L127.57 429.40 L127.80 429.40 L128.04 429.40 L128.29 429.40 L128.54 429.40 L128.79 429.40 L129.05 429.40 L129.31 429.40 L129.58 429.40 L129.86 429.40 L130.13 429.40 L130.41 429.40 L130.70 429.40 L130.99 429.40 L131.28 429.40 L131.58 429.40 L131.89 429.40 L132.19 429.40 L132.50 429.40 L132.82 429.40 L133.14 429.40 L133.46 429.40 L133.79 429.40 L134.12 429.40 L134.45 429.40 L134.79 429.40 L135.14 429.40 L135.48 429.40 L135.83 429.40 L136.19 429.40 L136.55 429.40 L136.91 429.40 L137.27 429.40 L137.64 429.40 L138.02 429.40 L138.39 429.40 L138.77 429.40 L139.16 429.40 L139.54 429.40 L139.93 429.40 L140.33 429.40 L140.73 429.40 L141.13 429.40 L141.53 429.40 L141.94 429.40 L142.35 429.40 L142.77 429.40 L143.18 429.40 L143.61 429.40 L144.03 429.40 L144.46 429.40 L144.89 429.40 L145.32 429.40 L145.76 429.40 L146.20 429.40 L146.65 429.40 L147.10 429.40 L147.55 429.40 L148.00 429.40 L148.46 429.40 L148.92 429.40 L149.38 429.40 L149.85 429.40 L150.32 429.40 L150.79 429.39 L151.27 429.39 L151.75 429.39 L152.23 429.39 L152.72 429.39 L153.21 429.39 L153.70 429.38 L154.19 429.38 L154.69 429.38 L155.19 429.37 L155.69 429.37 L156.20 429.36 L156.71 429.35 L157.22 429.34 L157.74 429.33 L158.26 429.32 L158.78 429.31 L159.30 429.30 L159.83 429.28 L160.36 429.26 L160.89 429.25 L161.43 429.22 L161.96 429.20 L162.51 429.17 L163.05 429.14 L163.60 429.11 L164.15 429.08 L164.70 429.04 L165.25 428.99 L165.81 428.95 L166.37 428.89 L166.94 428.84 L167.50 428.78 L168.07 428.71 L168.64 428.64 L169.22 428.56 L169.80 428.48 L170.38 428.39 L170.96 428.30 L171.54 428.19 L172.13 428.08 L172.72 427.97 L173.32 427.84 L173.91 427.71 L174.51 427.57 L175.11 427.42 L175.72 427.26 L176.32 427.09 L176.93 426.91 L177.54 426.72 L178.16 426.52 L178.78 426.31 L179.40 426.09 L180.02 425.86 L180.64 425.61 L181.27 425.35 L181.90 425.09 L182.53 424.80 L183.17 424.51 L183.81 424.20 L184.45 423.88 L185.09 423.55 L185.74 423.20 L186.38 422.83 L187.03 422.46 L187.69 422.06 L188.34 421.66 L189.00 421.23 L189.66 420.80 L190.32 420.34 L190.99 419.87 L191.66 419.39 L192.33 418.89 L193.00 418.37 L193.67 417.83 L194.35 417.28 L195.03 416.72 L195.71 416.13 L196.40 415.53 L197.09 414.91 L197.78 414.28 L198.47 413.62 L199.16 412.95 L199.86 412.27 L200.56 411.56 L201.26 410.84 L201.96 410.10 L202.67 409.35 L203.38 408.57 L204.09 407.78 L204.81 406.98 L205.52 406.15 L206.24 405.31 L206.96 404.45 L207.68 403.57 L208.41 402.68 L209.14 401.77 L209.87 400.84 L210.60 399.90 L211.33 398.94 L212.07 397.96 L212.81 396.97 L213.55 395.96 L214.29 394.94 L215.04 393.90 L215.79 392.84 L216.54 391.77 L217.29 390.68 L218.05 389.58 L218.81 388.47 L219.57 387.33 L220.33 386.19 L221.09 385.03 L221.86 383.86 L222.63 382.67 L223.40 381.47 L224.17 380.26 L224.95 379.03 L225.72 377.79 L226.50 376.54 L227.29 375.28 L228.07 374.00 L228.86 372.71 L229.65 371.41 L230.44 370.10 L231.23 368.78 L232.03 367.45 L232.82 366.11 L233.62 364.76 L234.43 363.40 L235.23 362.02 L236.04 360.64 L236.84 359.25 L237.66 357.86 L238.47 356.45 L239.28 355.04 L240.10 353.61 L240.92 352.18 L241.74 350.75 L242.56 349.30 L243.39 347.85 L244.22 346.40 L245.05 344.93 L245.88 343.46 L246.71 341.99 L247.55 340.51 L248.39 339.03 L249.23 337.54 L250.07 336.04 L250.92 334.54 L251.77 333.04 L252.61 331.54 L253.47 330.03 L254.32 328.51 L255.17 327.00 L256.03 325.48 L256.89 323.96 L257.75 322.44 L258.62 320.91 L259.48 319.39 L260.35 317.86 L261.22 316.33 L262.09 314.80 L262.97 313.27 L263.84 311.74 L264.72 310.21 L265.60 308.67 L266.48 307.14 L267.37 305.61 L268.25 304.08 L269.14 302.55 L270.03 301.02 L270.92 299.49 L271.82 297.96 L272.72 296.44 L273.61 294.91 L274.51 293.39 L275.42 291.87 L276.32 290.35 L277.23 288.84 L278.14 287.33 L279.05 285.81 L279.96 284.31 L280.88 282.80 L281.79 281.30 L282.71 279.80 L283.63 278.31 L284.55 276.82 L285.48 275.33 L286.40 273.84 L287.33 272.36 L288.26 270.89 L289.20 269.42 L290.13 267.95 L291.07 266.49 L292.01 265.03 L292.95 263.57 L293.89 262.12 L294.83 260.68 L295.78 259.24 L296.73 257.80 L297.68 256.38 L298.63 254.95 L299.58 253.53 L300.54 252.12 L301.50 250.71 L302.46 249.31 L303.42 247.91 L304.38 246.52 L305.35 245.14 L306.32 243.76 L307.29 242.38 L308.26 241.02 L309.23 239.65 L310.21 238.30 L311.18 236.95 L312.16 235.61 L313.14 234.27 L314.13 232.94 L315.11 231.61 L316.10 230.30 L317.09 228.98 L318.08 227.68 L319.07 226.38 L320.06 225.09 L321.06 223.80 L322.06 222.52 L323.06 221.25 L324.06 219.98 L325.06 218.73 L326.07 217.47 L327.08 216.23 L328.09 214.99 L329.10 213.76 L330.11 212.53 L331.13 211.31 L332.14 210.10 L333.16 208.89 L334.18 207.70 L335.20 206.50 L336.23 205.32 L337.25 204.14 L338.28 202.97 L339.31 201.80 L340.34 200.65 L341.38 199.50 L342.41 198.35 L343.45 197.21 L344.49 196.08 L345.53 194.96 L346.57 193.84 L347.62 192.73 L348.66 191.63 L349.71 190.53 L350.76 189.44 L351.81 188.36 L352.87 187.28 L353.92 186.21 L354.98 185.15 L356.04 184.10 L357.10 183.05 L358.16 182.00 L359.23 180.97 L360.29 179.94 L361.36 178.91 L362.43 177.90 L363.50 176.89 L364.58 175.88 L365.65 174.89 L366.73 173.90 L367.81 172.91 L368.89 171.94 L369.97 170.97 L371.06 170.00 L372.14 169.04 L373.23 168.09 L374.32 167.15 L375.41 166.21 L376.50 165.27 L377.60 164.35 L378.70 163.43 L379.79 162.51 L380.89 161.61 L382.00 160.70 L383.10 159.81 L384.21 158.92 L385.31 158.03 L386.42 157.16 L387.53 156.29 L388.65 155.42 L389.76 154.56 L390.88 153.71 L391.99 152.86 L393.11 152.02 L394.23 151.18 L395.36 150.35 L396.48 149.53 L397.61 148.71 L398.74 147.89 L399.87 147.09 L401.00 146.28 L402.13 145.49 L403.27 144.70 L404.40 143.91 L405.54 143.13 L406.68 142.36 L407.83 141.59 L408.97 140.82 L410.12 140.07 L411.26 139.31 L412.41 138.57 L413.56 137.82 L414.72 137.09 L415.87 136.35 L417.03 135.63 L418.18 134.91 L419.34 134.19 L420.50 133.48 L421.67 132.77 L422.83 132.07 L424.00 131.37 L425.16 130.68 L426.33 130.00 L427.51 129.32 L428.68 128.64 L429.85 127.97 L431.03 127.30 L432.21 126.64 L433.39 125.98 L434.57 125.33 L435.75 124.68 L436.94 124.03 L438.12 123.40 L439.31 122.76 L440.50 122.13 L441.69 121.50 L442.88 120.88 L444.08 120.27 L445.28 119.65 L446.47 119.05 L447.67 118.44 L448.88 117.84 L450.08 117.25 L451.28 116.66 L452.49 116.07 L453.70 115.49 L454.91 114.91 L456.12 114.34 L457.33 113.77 L458.55 113.20 L459.76 112.64 L460.98 112.08 L462.20 111.53 L463.42 110.98 L464.65 110.43 L465.87 109.89 L467.10 109.35 L468.32 108.82 L469.55 108.29 L470.79 107.76 L472.02 107.24 L473.25 106.72 L474.49 106.20 L475.73 105.69 L476.97 105.18 L478.21 104.68 L479.45 104.18 L480.69 103.68 L481.94 103.19 L483.19 102.70 L484.44 102.21 L485.69 101.73 L486.94 101.25 L488.19 100.77 L489.45 100.30 L490.71 99.83 L491.97 99.36 L493.23 98.90 L494.49 98.44 L495.75 97.98 L497.02 97.53 L498.28 97.08 L499.55 96.63 L500.82 96.18 L502.10 95.74 L503.37 95.31 L504.64 94.87 L505.92 94.44 L507.20 94.01 L508.48 93.59 L509.76 93.16 L511.04 92.74 L512.33 92.33 L513.61 91.91 L514.90 91.50 L516.19 91.09 L517.48 90.69 L518.77 90.29 L520.07 89.89 L521.36 89.49 L522.66 89.10 L523.96 88.71 L525.26 88.32 L526.56 87.93 L527.87 87.55 L529.17 87.17 L530.48 86.79 L531.79 86.42 L533.10 86.04 L534.41 85.68 L535.72 85.31 L537.04 84.94 L538.35 84.58 L539.67 84.22 L540.99 83.86 L542.31 83.51 L543.63 83.16 L544.96 82.81 L546.28 82.46 L547.61 82.12 L548.94 81.77 L550.27 81.43 L551.60 81.09 L552.93 80.76 L554.27 80.43 L555.60 80.09 L556.94 79.77 L558.28 79.44 L559.62 79.11 L560.97 78.79 L562.31 78.47 L563.66 78.16 L565.00 77.84 L566.35 77.53 L567.70 77.21 L569.05 76.91 L570.41 76.60 L571.76 76.29 L573.12 75.99 L574.48 75.69 L575.84 75.39 L577.20 75.09 L578.56 74.80 L579.93 74.51 L581.29 74.22 L582.66 73.93 L584.03 73.64 L585.40 73.36 L586.77 73.07 L588.14 72.79 L589.52 72.51 L590.89 72.23 L592.27 71.96 L593.65 71.68 L595.03 71.41 L596.42 71.14 L597.80 70.87 L599.19 70.61 L600.57 70.34 L601.96 70.08 L603.35 69.82 L604.74 69.56 L606.14 69.30 L607.53 69.05 L608.93 68.79 L610.32 68.54 L611.72 68.29 L613.12 68.04 L614.53 67.79 L615.93 67.54 L617.34 67.30 L618.74 67.06 L620.15 66.82 L621.56 66.58 L622.97 66.34 L624.38 66.10 L625.80 65.87 L627.21 65.63 L628.63 65.40 L630.05 65.17 L631.47 64.94 L632.89 64.71 L634.31 64.49 L635.74 64.26 L637.16 64.04 L638.59 63.82 L640.02 63.60 L641.45 63.38 L642.88 63.16 L644.32 62.95 L645.75 62.73 L647.19 62.52 L648.63 62.31 L650.07 62.09 L651.51 61.89 L652.95 61.68 L654.39 61.47 L655.84 61.27 L657.29 61.06 L658.73 60.86 L660.18 60.66 L661.64 60.46 L663.09 60.26 L664.54 60.06 L666.00 59.87 L667.45 59.67 L668.91 59.48 L670.37 59.28 L671.83 59.09 L673.30 58.90 L674.76 58.71 L676.23 58.53 L677.70 58.34 L679.16 58.15 L680.63 57.97 L682.11 57.79 L683.58 57.60 L685.05 57.42 L686.53 57.24 L688.01 57.07 L689.49 56.89 L690.97 56.71 L692.45 56.54 L693.93 56.36 L695.42 56.19 L696.90 56.02 L698.39 55.85 L699.88 55.68 L701.37 55.51 L702.86 55.34 L704.36 55.17 L705.85 55.01 L707.35 54.84 L708.85 54.68 L710.34 54.52 L711.84 54.35 L713.35 54.19 L714.85 54.03 L716.36 53.87 L717.86 53.72 L719.37 53.56 L720.88 53.40 L722.39 53.25 L723.90 53.09 L725.42 52.94 L726.93 52.79 L728.45 52.64 L729.96 52.49 L731.48 52.34 L733.00 52.19 L734.53 52.04 L736.05 51.90 L737.57 51.75 L739.10 51.60 L740.63 51.46 L742.16 51.32 L743.69 51.17 L745.22 51.03 L746.75 50.89 L748.29 50.75 L749.83 50.61 L751.36 50.48 L752.90 50.34 L754.44 50.20 L755.98 50.07 L757.53 49.93 L759.07 49.80 L760.62 49.66 L762.17 49.53 L763.72 49.40 L765.27 49.27 L766.82 49.14 L768.37 49.01 L769.93 48.88 L771.48 48.75 L773.04 48.62 L774.60 48.50 L776.16 48.37 L777.72 48.25 L779.28 48.12 L780.85 48.00 L782.41 47.88 L783.98 47.75 L785.55 47.63 L787.12 47.51 L788.69 47.39 L790.26 47.27 L791.84 47.15 L793.41 47.03 L794.99 46.92 L796.57 46.80 L798.15 46.68 L799.73 46.57 L801.31 46.45 L802.90 46.34 L804.48 46.23 L806.07 46.11 L807.66 46.00 L809.24 45.89 L810.84 45.78 L812.43 45.67 L814.02 45.56 L815.62 45.45 L817.21 45.34 L818.81 45.24 L820.41 45.13 L822.01 45.02 L823.61 44.92 L825.21 44.81" stroke="#ff0000" stroke-width="3.9" fill="none" stroke-linejoin="round" stroke-linecap="square" stroke-dasharray="9.34 9.34"/>
<path d="M123.50 452.00 v-8.90 M123.50 0.45 v8.90 M157.73 452.00 v-5.10 M157.73 0.45 v5.10 M191.96 452.00 v-5.10 M191.96 0.45 v5.10 M226.19 452.00 v-5.10 M226.19 0.45 v5.10 M260.42 452.00 v-5.10 M260.42 0.45 v5.10 M294.65 452.00 v-8.90 M294.65 0.45 v8.90 M328.88 452.00 v-5.10 M328.88 0.45 v5.10 M363.11 452.00 v-5.10 M363.11 0.45 v5.10 M397.34 452.00 v-5.10 M397.34 0.45 v5.10 M431.57 452.00 v-5.10 M431.57 0.45 v5.10 M465.80 452.00 v-8.90 M465.80 0.45 v8.90 M500.03 452.00 v-5.10 M500.03 0.45 v5.10 M534.26 452.00 v-5.10 M534.26 0.45 v5.10 M568.49 452.00 v-5.10 M568.49 0.45 v5.10 M602.72 452.00 v-5.10 M602.72 0.45 v5.10 M636.95 452.00 v-8.90 M636.95 0.45 v8.90 M671.18 452.00 v-5.10 M671.18 0.45 v5.10 M705.41 452.00 v-5.10 M705.41 0.45 v5.10 M739.64 452.00 v-5.10 M739.64 0.45 v5.10 M773.87 452.00 v-5.10 M773.87 0.45 v5.10 M808.10 452.00 v-8.90 M808.10 0.45 v8.90 M108.94 449.82 h5.10 M839.55 449.82 h-5.10 M108.94 429.40 h8.90 M839.55 429.40 h-8.90 M108.94 408.97 h5.10 M839.55 408.97 h-5.10 M108.94 388.55 h5.10 M839.55 388.55 h-5.10 M108.94 368.12 h5.10 M839.55 368.12 h-5.10 M108.94 347.70 h8.90 M839.55 347.70 h-8.90 M108.94 327.27 h5.10 M839.55 327.27 h-5.10 M108.94 306.85 h5.10 M839.55 306.85 h-5.10 M108.94 286.42 h5.10 M839.55 286.42 h-5.10 M108.94 266.00 h8.90 M839.55 266.00 h-8.90 M108.94 245.57 h5.10 M839.55 245.57 h-5.10 M108.94 225.15 h5.10 M839.55 225.15 h-5.10 M108.94 204.72 h5.10 M839.55 204.72 h-5.10 M108.94 184.30 h8.90 M839.55 184.30 h-8.90 M108.94 163.87 h5.10 M839.55 163.87 h-5.10 M108.94 143.45 h5.10 M839.55 143.45 h-5.10 M108.94 123.02 h5.10 M839.55 123.02 h-5.10 M108.94 102.60 h8.90 M839.55 102.60 h-8.90 M108.94 82.17 h5.10 M839.55 82.17 h-5.10 M108.94 61.75 h5.10 M839.55 61.75 h-5.10 M108.94 41.32 h5.10 M839.55 41.32 h-5.10 M108.94 20.90 h8.90 M839.55 20.90 h-8.90 M108.94 0.47 h5.10 M839.55 0.47 h-5.10" stroke="#4a4a4a" stroke-width="1" fill="none"/>
<path d="M108.94 0 V452.00 H839.55 V0" fill="none" stroke="#626262" stroke-width="1.12" stroke-linejoin="miter"/>
<path d="M108.34 0.5 H840.15" fill="none" stroke="#555" stroke-width="1"/>
<path d="M109.2 0.5 H114 M834.3 0.5 H840" fill="none" stroke="#111" stroke-width="1"/>
<path d="M608.1 152.00 H697.60" stroke="#000000" stroke-width="3.9" stroke-linecap="square" fill="none"/>
<path d="M608.1 200.10 H697.60" stroke="#0000ff" stroke-width="3.9" stroke-linecap="square" fill="none" stroke-dasharray="9.336 9.336"/>
<path d="M608.1 248.70 H697.60" stroke="#800080" stroke-width="3.9" stroke-linecap="square" fill="none" stroke-dasharray="9.33 9.33"/>
<path d="M608.1 297.20 H697.60" stroke="#ff0000" stroke-width="3.9" stroke-linecap="square" fill="none" stroke-dasharray="9.34 9.34"/>
</svg>
<svg width="843" height="554" viewBox="0 0 843 554" style="position:absolute;left:0;top:0;will-change:transform;filter:grayscale(1)">
<text transform="translate(713.3 160.60) scale(0.950 1)" font-family="Liberation Serif, serif" text-rendering="geometricPrecision" font-size="29.5" font-style="italic" fill="#000">&#8467;</text>
<text transform="translate(724.3 162.50) scale(1.10 1.02)" font-family="Liberation Serif, serif" text-rendering="geometricPrecision" font-size="29.5" fill="#000">=</text>
<text transform="translate(742.8 160.60) scale(0.950 1)" font-family="Liberation Serif, serif" text-rendering="geometricPrecision" font-size="29.5" letter-spacing="-0.8" fill="#000">0</text>
<text transform="translate(713.3 208.70) scale(0.950 1)" font-family="Liberation Serif, serif" text-rendering="geometricPrecision" font-size="29.5" font-style="italic" fill="#000">&#8467;</text>
<text transform="translate(724.3 210.60) scale(1.10 1.02)" font-family="Liberation Serif, serif" text-rendering="geometricPrecision" font-size="29.5" fill="#000">=</text>
<text transform="translate(742.8 208.70) scale(0.950 1)" font-family="Liberation Serif, serif" text-rendering="geometricPrecision" font-size="29.5" letter-spacing="-0.8" fill="#000">0.3</text>
<text transform="translate(713.3 257.30) scale(0.950 1)" font-family="Liberation Serif, serif" text-rendering="geometricPrecision" font-size="29.5" font-style="italic" fill="#000">&#8467;</text>
<text transform="translate(724.3 259.20) scale(1.10 1.02)" font-family="Liberation Serif, serif" text-rendering="geometricPrecision" font-size="29.5" fill="#000">=</text>
<text transform="translate(742.8 257.30) scale(0.950 1)" font-family="Liberation Serif, serif" text-rendering="geometricPrecision" font-size="29.5" letter-spacing="-0.8" fill="#000">0.5</text>
<text transform="translate(713.3 305.80) scale(0.950 1)" font-family="Liberation Serif, serif" text-rendering="geometricPrecision" font-size="29.5" font-style="italic" fill="#000">&#8467;</text>
<text transform="translate(724.3 307.70) scale(1.10 1.02)" font-family="Liberation Serif, serif" text-rendering="geometricPrecision" font-size="29.5" fill="#000">=</text>
<text transform="translate(742.8 305.80) scale(0.950 1)" font-family="Liberation Serif, serif" text-rendering="geometricPrecision" font-size="29.5" letter-spacing="-0.8" fill="#000">0.7</text>
<text transform="translate(123.50 491.8) scale(0.950 1)" font-family="Liberation Serif, serif" text-rendering="geometricPrecision" font-size="29.5" letter-spacing="-0.8" text-anchor="middle" fill="#000">0</text>
<text transform="translate(294.65 491.8) scale(0.950 1)" font-family="Liberation Serif, serif" text-rendering="geometricPrecision" font-size="29.5" letter-spacing="-0.8" text-anchor="middle" fill="#000">5</text>
<text transform="translate(465.80 491.8) scale(0.950 1)" font-family="Liberation Serif, serif" text-rendering="geometricPrecision" font-size="29.5" letter-spacing="-0.8" text-anchor="middle" fill="#000">10</text>
<text transform="translate(636.95 491.8) scale(0.950 1)" font-family="Liberation Serif, serif" text-rendering="geometricPrecision" font-size="29.5" letter-spacing="-0.8" text-anchor="middle" fill="#000">15</text>
<text transform="translate(808.10 491.8) scale(0.950 1)" font-family="Liberation Serif, serif" text-rendering="geometricPrecision" font-size="29.5" letter-spacing="-0.8" text-anchor="middle" fill="#000">20</text>
<text transform="translate(101.8 442.70) scale(0.950 1)" font-family="Liberation Serif, serif" text-rendering="geometricPrecision" font-size="29.5" letter-spacing="-0.3" text-anchor="end" fill="#000">0.0</text>
<text transform="translate(101.8 361.00) scale(0.950 1)" font-family="Liberation Serif, serif" text-rendering="geometricPrecision" font-size="29.5" letter-spacing="-0.3" text-anchor="end" fill="#000">0.2</text>
<text transform="translate(101.8 279.30) scale(0.950 1)" font-family="Liberation Serif, serif" text-rendering="geometricPrecision" font-size="29.5" letter-spacing="-0.3" text-anchor="end" fill="#000">0.4</text>
<text transform="translate(101.8 197.60) scale(0.950 1)" font-family="Liberation Serif, serif" text-rendering="geometricPrecision" font-size="29.5" letter-spacing="-0.3" text-anchor="end" fill="#000">0.6</text>
<text transform="translate(101.8 115.90) scale(0.950 1)" font-family="Liberation Serif, serif" text-rendering="geometricPrecision" font-size="29.5" letter-spacing="-0.3" text-anchor="end" fill="#000">0.8</text>
<text transform="translate(101.8 34.20) scale(0.950 1)" font-family="Liberation Serif, serif" text-rendering="geometricPrecision" font-size="29.5" letter-spacing="-0.3" text-anchor="end" fill="#000">1.0</text>
<text x="474.3" y="546.6" font-family="Liberation Serif, serif" text-rendering="geometricPrecision" font-size="28" font-style="italic" text-anchor="middle" fill="#000">&#969;</text>
<text x="0.78" y="238.05" font-family="Liberation Serif, serif" text-rendering="geometricPrecision" font-size="25.7" fill="#000">|</text>
<text x="6.9" y="239.5" font-family="Liberation Serif, serif" text-rendering="geometricPrecision" font-size="27" fill="#000"><tspan font-style="italic">A</tspan><tspan font-style="italic" font-size="19" dy="3">s</tspan><tspan font-size="19" dy="-12" dx="2">2</tspan></text>
<text x="44.38" y="238.05" font-family="Liberation Serif, serif" text-rendering="geometricPrecision" font-size="25.7" fill="#000">|</text>
</svg>
</body></html>
